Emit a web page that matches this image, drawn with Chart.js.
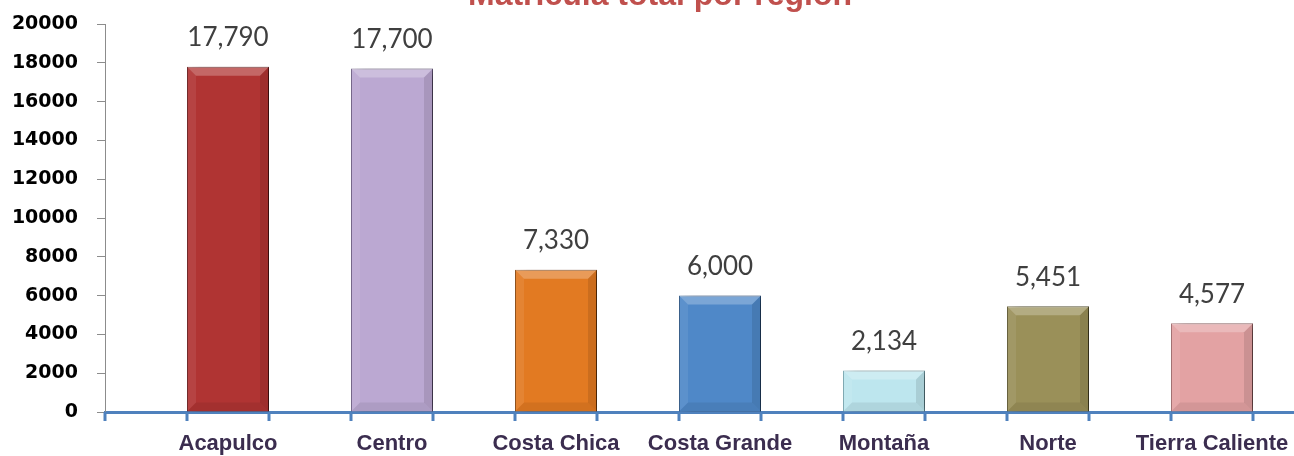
<!DOCTYPE html>
<html>
<head>
<meta charset="utf-8">
<script src="https://cdn.jsdelivr.net/npm/chart.js@4.4.1/dist/chart.umd.min.js"></script>
<style>
  html, body { margin: 0; padding: 0; background: #fff; }
  #caja { width: 1294px; height: 456px; position: relative; }
</style>
</head>
<body>
<div id="caja"><canvas id="grafica"></canvas></div>
<script>
// datos
const titulo = 'Matrícula total por región';
const regiones = ['Acapulco', 'Centro', 'Costa Chica', 'Costa Grande', 'Montaña', 'Norte', 'Tierra Caliente'];
const matricula = [17790, 17700, 7330, 6000, 2134, 5451, 4577];
const colores = ['#b03433', '#bba8d2', '#e27a22', '#4f88c8', '#bde6ee', '#9a9059', '#e3a2a3'];
const bordes = ['#6a1a1a', '#6f5f86', '#8a470e', '#2c5686', '#7aa8b2', '#5e5730', '#a06a6c'];

// sombra detras de las barras
const sombra = {
    id: 'sombra',
    beforeDatasetDraw(chart) {
        const ctx = chart.ctx;
        ctx.save();
        ctx.shadowColor = 'rgba(0,0,0,0.45)';
        ctx.shadowBlur = 10;
        ctx.shadowOffsetX = 7;
        ctx.shadowOffsetY = 1;
    },
    afterDatasetDraw(chart, args) {
        const ctx = chart.ctx;
        ctx.restore();
        // bisel
        args.meta.data.forEach(bar => {
            const izq = bar.x - bar.width / 2, der = bar.x + bar.width / 2;
            const arriba = bar.y, abajo = bar.base;
            const b = Math.min(9, (abajo - arriba) / 3);
            ctx.save();
            ctx.fillStyle = 'rgba(255,255,255,0.25)';
            ctx.beginPath();
            ctx.moveTo(izq, arriba); ctx.lineTo(der, arriba);
            ctx.lineTo(der - b, arriba + b); ctx.lineTo(izq + b, arriba + b);
            ctx.closePath(); ctx.fill();
            ctx.fillStyle = 'rgba(255,255,255,0.08)';
            ctx.beginPath();
            ctx.moveTo(izq, arriba); ctx.lineTo(izq + b, arriba + b);
            ctx.lineTo(izq + b, abajo - b); ctx.lineTo(izq, abajo);
            ctx.closePath(); ctx.fill();
            ctx.fillStyle = 'rgba(0,0,0,0.10)';
            ctx.beginPath();
            ctx.moveTo(der, arriba); ctx.lineTo(der - b, arriba + b);
            ctx.lineTo(der - b, abajo - b); ctx.lineTo(der, abajo);
            ctx.closePath(); ctx.fill();
            ctx.fillStyle = 'rgba(0,0,0,0.07)';
            ctx.beginPath();
            ctx.moveTo(izq, abajo); ctx.lineTo(izq + b, abajo - b);
            ctx.lineTo(der - b, abajo - b); ctx.lineTo(der, abajo);
            ctx.closePath(); ctx.fill();
            ctx.restore();
        });
    }
};

// valores encima de cada barra, titulo y marcas del eje x
const extras = {
    id: 'extras',
    afterDatasetsDraw(chart) {
        const ctx = chart.ctx;
        ctx.save();
        ctx.font = '26px Lato';
        ctx.fillStyle = '#3f3f3f';
        ctx.textAlign = 'center';
        ctx.textBaseline = 'bottom';
        chart.getDatasetMeta(0).data.forEach((bar, i) => {
            ctx.fillText(matricula[i].toLocaleString('en-US'), bar.x, bar.y - 16);
        });
        ctx.restore();
    },
    afterDraw(chart) {
        const ctx = chart.ctx;
        const x = chart.scales.x;
        ctx.save();
        ctx.strokeStyle = '#4f81bd';
        ctx.lineWidth = 3;
        const marcas = [-0.75];
        regiones.forEach((r, i) => { marcas.push(i - 0.25, i + 0.25); });
        marcas.forEach(v => {
            const px = x.getPixelForValue(v);
            ctx.beginPath();
            ctx.moveTo(px, x.top);
            ctx.lineTo(px, x.top + 9);
            ctx.stroke();
        });
        ctx.font = 'bold 32px "Liberation Sans"';
        ctx.fillStyle = '#c0504d';
        ctx.textAlign = 'center';
        ctx.textBaseline = 'alphabetic';
        ctx.fillText(titulo, 660, 5);
        ctx.restore();
    }
};

new Chart(document.getElementById('grafica'), {
    type: 'bar',
    data: {
        labels: regiones,
        datasets: [{
            data: matricula,
            backgroundColor: colores,
            borderColor: bordes,
            borderWidth: 1,
            barPercentage: 0.5,
            categoryPercentage: 1
        }]
    },
    options: {
        responsive: true,
        maintainAspectRatio: false,
        animation: false,
        layout: { padding: { top: 24, right: 0, left: 0, bottom: 0 } },
        plugins: { legend: { display: false }, tooltip: { enabled: false } },
        scales: {
            x: {
                offset: false,
                z: 1,
                afterBuildTicks: s => { s._startValue = -0.75; s._valueRange = 7.25; },
                afterFit: s => { s.height = 44; s.paddingLeft = 0; s.paddingRight = 0; },
                grid: { display: false, drawTicks: false },
                border: { color: '#4f81bd', width: 3 },
                ticks: {
                    padding: 19,
                    color: '#3b2d4f',
                    font: { family: 'Liberation Sans', size: 22, weight: 'bold' }
                }
            },
            y: {
                min: 0,
                max: 20000,
                afterFit: s => { s.width = 105; s.paddingTop = 0; s.paddingBottom = 0; },
                grid: { drawOnChartArea: false, drawTicks: true, tickLength: 8, color: '#8c8c8c' },
                border: { color: '#8c8c8c', width: 1 },
                ticks: {
                    stepSize: 2000,
                    padding: 19,
                    color: '#000',
                    callback: v => String(v),
                    font: { family: 'DejaVu Sans', size: 19, weight: 'bold' }
                }
            }
        }
    },
    plugins: [sombra, extras]
});
</script>
</body>
</html>
